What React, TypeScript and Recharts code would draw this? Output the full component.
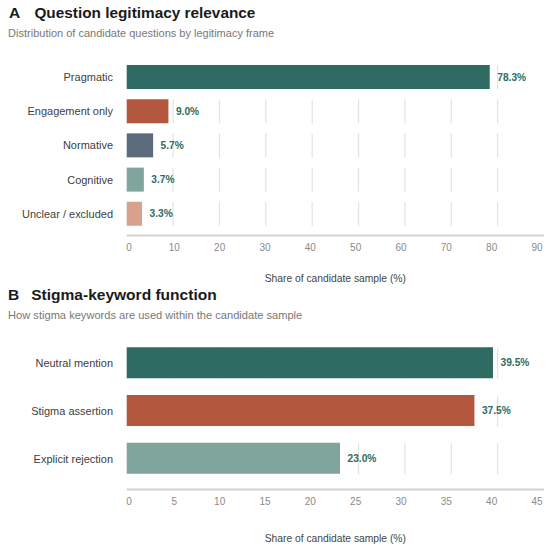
import React from 'react';
import { BarChart, Bar, XAxis, YAxis, CartesianGrid, Cell, LabelList } from 'recharts';

const legitimacyCategories = ['Pragmatic', 'Engagement only', 'Normative', 'Cognitive', 'Unclear / excluded'];
const legitimacyValues = [78.3, 9.0, 5.7, 3.7, 3.3];
const legitimacyColors = ['#2e6b62', '#b3573e', '#5b6b7b', '#80a59c', '#d7a18d'];
const legitimacyTicks = [0, 10, 20, 30, 40, 50, 60, 70, 80, 90];
const legitimacyGridTicks = [10, 20, 30, 40, 50, 60, 70, 80];

const stigmaCategories = ['Neutral mention', 'Stigma assertion', 'Explicit rejection'];
const stigmaValues = [39.5, 37.5, 23.0];
const stigmaColors = ['#2e6b62', '#b3573e', '#80a59c'];
const stigmaTicks = [0, 5, 10, 15, 20, 25, 30, 35, 40, 45];
const stigmaGridTicks = [5, 10, 15, 20, 25, 30, 35, 40];

const axisLabel = 'Share of candidate sample (%)';
const FONT = '"Liberation Sans", Arial, Helvetica, sans-serif';

const PLOT_LEFT = 126.7;
const TICK_LEFT = 129;
const TICK_SCALE = 0.9777;

function AxisTick(props: any) {
  const { x, y, payload } = props;
  const xr = TICK_LEFT + (x - PLOT_LEFT) * TICK_SCALE;
  return (
    <text x={xr} y={y} dy="0.71em" textAnchor="middle" fill="#8a8a8a" fontSize={10}>
      {payload.value}
    </text>
  );
}

type PanelProps = {
  categories: string[];
  values: number[];
  colors: string[];
  ticks: number[];
  gridTicks: number[];
  top: number;
  marginTop: number;
  plotHeight: number;
  padBottom: number;
  barSize: number;
  gap: number;
  tickMargin: number;
  xAxisHeight: number;
};

function Panel(p: PanelProps) {
  const data = p.categories.map((name, i) => ({ name, value: p.values[i] }));
  const max = p.ticks[p.ticks.length - 1];
  const marginBottom = 6;
  const height = p.marginTop + p.plotHeight + p.xAxisHeight + marginBottom;
  return (
    <div style={{ position: 'absolute', left: 0, top: p.top }}>
      <BarChart
        width={550}
        height={height}
        data={data}
        layout="vertical"
        margin={{ top: p.marginTop, right: 6, bottom: marginBottom, left: 0 }}
      >
        <CartesianGrid
          horizontal={false}
          verticalValues={p.gridTicks}
          stroke="#e3e3e3"
          strokeWidth={1.2}
          strokeDasharray={`0 ${p.gap} ${p.barSize} ${p.gap}`}
        />
        <XAxis
          type="number"
          domain={[0, max]}
          ticks={p.ticks}
          interval={0}
          tickLine={false}
          tickSize={0}
          tickMargin={p.tickMargin}
          axisLine={{ stroke: '#d2d2d2', strokeWidth: 2 }}
          tick={<AxisTick />}
          height={p.xAxisHeight}
          label={{ value: axisLabel, position: 'insideBottom', offset: 0, fill: '#444', fontSize: 10.3 }}
        />
        <YAxis
          type="category"
          dataKey="name"
          width={PLOT_LEFT}
          axisLine={false}
          tickLine={false}
          tickSize={0}
          tickMargin={13.7}
          padding={{ top: 0, bottom: p.padBottom }}
          tick={{ fill: '#404040', fontSize: 11 }}
          interval={0}
        />
        <Bar dataKey="value" barSize={p.barSize} isAnimationActive={false}>
          {data.map((d, i) => (
            <Cell key={d.name} fill={p.colors[i]} />
          ))}
          <LabelList
            dataKey="value"
            position="right"
            offset={7.5}
            fill="#2e6b62"
            fontSize={10.2}
            fontWeight="bold"
            formatter={(v: any) => `${Number(v).toFixed(1)}%`}
          />
        </Bar>
      </BarChart>
    </div>
  );
}

export default function App() {
  return (
    <div style={{ position: 'absolute', left: 0, top: 0, width: 550, height: 548, background: '#fff', fontFamily: FONT }}>
      <svg width={550} height={548} style={{ position: 'absolute', left: 0, top: 0 }}>
        <g fontFamily={FONT}>
          <text x={9} y={18.3} fontSize={15.5} fontWeight="bold" fill="#1a1a1a">A</text>
          <text x={34.4} y={18.3} fontSize={15.5} fontWeight="bold" fill="#1a1a1a" textLength={221} lengthAdjust="spacingAndGlyphs">Question legitimacy relevance</text>
          <text x={8.1} y={36.7} fontSize={11} fill="#777">Distribution of candidate questions by legitimacy frame</text>
          <text x={7.9} y={300.3} fontSize={15.5} fontWeight="bold" fill="#1a1a1a">B</text>
          <text x={31.2} y={300.3} fontSize={15.5} fontWeight="bold" fill="#1a1a1a" textLength={185.5} lengthAdjust="spacingAndGlyphs">Stigma-keyword function</text>
          <text x={8.1} y={318.7} fontSize={11.1} fill="#777">How stigma keywords are used within the candidate sample</text>
        </g>
      </svg>
      <Panel
        categories={legitimacyCategories}
        values={legitimacyValues}
        colors={legitimacyColors}
        ticks={legitimacyTicks}
        gridTicks={legitimacyGridTicks}
        top={48}
        marginTop={11.9}
        plotHeight={175.6}
        padBottom={4.4}
        barSize={24}
        gap={5.12}
        tickMargin={8.1}
        xAxisHeight={46.2}
      />
      <Panel
        categories={stigmaCategories}
        values={stigmaValues}
        colors={stigmaColors}
        ticks={stigmaTicks}
        gridTicks={stigmaGridTicks}
        top={320}
        marginTop={19.35}
        plotHeight={150.15}
        padBottom={6.95}
        barSize={31}
        gap={8.37}
        tickMargin={8.4}
        xAxisHeight={52.2}
      />
    </div>
  );
}
